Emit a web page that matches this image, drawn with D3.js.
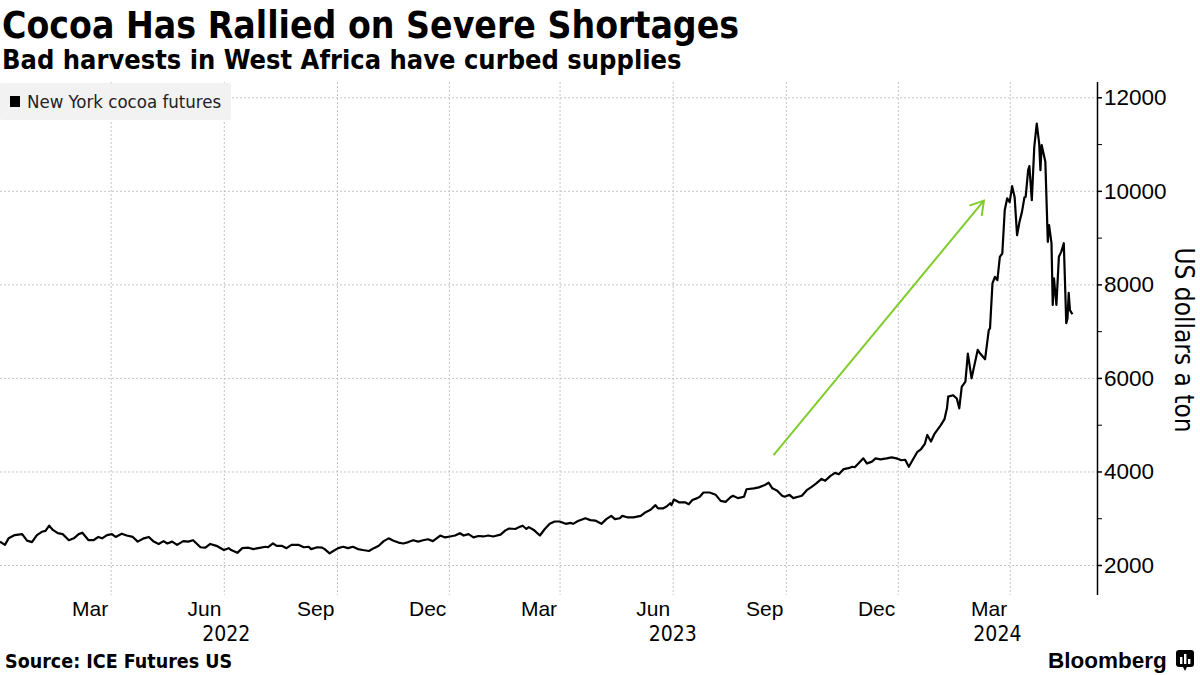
<!DOCTYPE html>
<html>
<head>
<meta charset="utf-8">
<script src="https://cdn.jsdelivr.net/npm/d3@7"></script>
<style>
  body { margin: 0; background: #fff; }
  svg { font-family: "DejaVu Sans Condensed", "DejaVu Sans", sans-serif; }
</style>
</head>
<body>
<svg id="chart" width="1200" height="675"></svg>
<script>
// New York cocoa futures, US dollars a ton
const dates = [
  "2021-12-01","2021-12-05","2021-12-08","2021-12-13","2021-12-19","2021-12-23","2021-12-27","2021-12-31",
  "2022-01-04","2022-01-07","2022-01-10","2022-01-13","2022-01-17","2022-01-21","2022-01-26","2022-01-30",
  "2022-02-03","2022-02-06","2022-02-11","2022-02-15","2022-02-19","2022-02-22","2022-02-26",
  "2022-03-02","2022-03-05","2022-03-10","2022-03-14","2022-03-19","2022-03-23","2022-03-28",
  "2022-04-01","2022-04-05","2022-04-09","2022-04-13","2022-04-16","2022-04-20","2022-04-24","2022-04-29",
  "2022-05-03","2022-05-07","2022-05-13","2022-05-17","2022-05-21","2022-05-26",
  "2022-06-01","2022-06-05","2022-06-07","2022-06-12","2022-06-16","2022-06-21","2022-06-25","2022-06-29",
  "2022-07-05","2022-07-07","2022-07-11","2022-07-14","2022-07-18","2022-07-22","2022-07-26",
  "2022-08-01","2022-08-05","2022-08-09","2022-08-11","2022-08-16","2022-08-20","2022-08-22","2022-08-26","2022-08-29",
  "2022-09-02","2022-09-06","2022-09-10","2022-09-14","2022-09-18","2022-09-22","2022-09-27",
  "2022-10-01","2022-10-05","2022-10-09","2022-10-13","2022-10-17","2022-10-21","2022-10-25","2022-10-29",
  "2022-11-02","2022-11-06","2022-11-10","2022-11-14","2022-11-18","2022-11-24","2022-11-28",
  "2022-12-02","2022-12-06","2022-12-10","2022-12-13","2022-12-17","2022-12-21","2022-12-25","2022-12-29",
  "2023-01-02","2023-01-06","2023-01-12","2023-01-16","2023-01-19","2023-01-24","2023-01-27","2023-01-30",
  "2023-02-02","2023-02-04","2023-02-08","2023-02-13","2023-02-17","2023-02-21","2023-02-25",
  "2023-03-01","2023-03-06","2023-03-10","2023-03-12","2023-03-16","2023-03-22","2023-03-26","2023-03-30",
  "2023-04-04","2023-04-08","2023-04-12","2023-04-15","2023-04-19","2023-04-21","2023-04-25","2023-04-30",
  "2023-05-06","2023-05-10","2023-05-14","2023-05-18","2023-05-20","2023-05-24","2023-05-27","2023-05-30","2023-05-31",
  "2023-06-02","2023-06-06","2023-06-11","2023-06-14","2023-06-17","2023-06-21","2023-06-23","2023-06-26",
  "2023-07-01","2023-07-06","2023-07-10","2023-07-14","2023-07-18","2023-07-20","2023-07-24","2023-07-29","2023-07-31",
  "2023-08-06","2023-08-10","2023-08-15","2023-08-18","2023-08-21","2023-08-25","2023-08-29","2023-08-31",
  "2023-09-04","2023-09-07","2023-09-11","2023-09-14","2023-09-18","2023-09-22","2023-09-26","2023-09-30",
  "2023-10-03","2023-10-07","2023-10-11","2023-10-14","2023-10-18","2023-10-22","2023-10-25","2023-10-27","2023-10-30",
  "2023-11-03","2023-11-06","2023-11-10","2023-11-13","2023-11-17","2023-11-22","2023-11-26","2023-11-30",
  "2023-12-04","2023-12-07","2023-12-10","2023-12-13","2023-12-17","2023-12-20","2023-12-23","2023-12-25","2023-12-28","2023-12-31",
  "2024-01-05","2024-01-08","2024-01-10","2024-01-11","2024-01-15","2024-01-18","2024-01-20","2024-01-22","2024-01-25","2024-01-27","2024-01-30",
  "2024-02-04","2024-02-06","2024-02-10","2024-02-13","2024-02-14","2024-02-16","2024-02-18","2024-02-20","2024-02-22","2024-02-24","2024-02-26","2024-02-28",
  "2024-03-01","2024-03-03","2024-03-05","2024-03-07","2024-03-09","2024-03-11","2024-03-13","2024-03-14","2024-03-16","2024-03-17",
  "2024-03-19","2024-03-21","2024-03-23","2024-03-25","2024-03-26","2024-03-27","2024-03-30",
  "2024-04-01","2024-04-02","2024-04-04","2024-04-05","2024-04-06","2024-04-08","2024-04-10","2024-04-12","2024-04-14",
  "2024-04-16","2024-04-17","2024-04-18","2024-04-19","2024-04-21"
];
const prices = [
  2500,2430,2570,2640,2660,2520,2490,2640,
  2710,2730,2840,2750,2680,2660,2530,2570,
  2660,2690,2530,2530,2600,2570,2640,
  2660,2600,2670,2630,2600,2500,2570,
  2600,2500,2450,2510,2460,2500,2430,2510,
  2500,2530,2380,2370,2450,2410,
  2320,2360,2320,2260,2360,2370,2340,2360,
  2390,2380,2460,2410,2410,2360,2430,
  2430,2380,2390,2340,2380,2370,2340,2250,2300,
  2360,2390,2360,2390,2340,2320,2300,
  2360,2410,2510,2570,2520,2480,2460,2490,
  2530,2500,2530,2550,2510,2630,2590,
  2610,2630,2680,2630,2660,2590,2620,2610,
  2630,2610,2650,2740,2780,2770,2810,2840,
  2770,2810,2750,2630,2770,2880,2930,
  2930,2880,2900,2880,2940,3000,2960,2950,
  2880,2980,3050,2980,3000,3050,3020,3020,
  3050,3130,3180,3280,3210,3210,3250,3320,3280,
  3400,3340,3340,3300,3390,3430,3460,3550,
  3550,3500,3370,3350,3450,3480,3430,3460,3620,
  3640,3660,3710,3760,3640,3590,3480,3460,
  3500,3430,3460,3480,3600,3670,3750,3840,
  3800,3900,3970,3940,4050,4070,4100,4090,4170,
  4280,4170,4210,4280,4260,4280,4300,4280,
  4240,4250,4100,4240,4420,4480,4590,4780,4640,4810,
  4990,5120,5350,5600,5630,5560,5350,5810,5920,6520,5990,
  6600,6520,6400,7020,7060,8020,8160,8090,8590,8660,9590,9840,
  9760,10100,9870,9050,9340,9550,9860,9870,10440,10530,
  9800,10940,11440,11010,10440,10980,10620,
  8910,9270,8880,7560,8130,7560,8590,8700,8880,
  7170,7270,7820,7450,7360
];

const xDomain = ["2021-12-01", "2024-05-11"];
const yTicks = [2000, 4000, 6000, 8000, 10000, 12000];
const yMinorTicks = [3000, 5000, 7000, 9000, 11000];
const monthTicks = ["2022-03-01","2022-06-01","2022-09-01","2022-12-01","2023-03-01",
                    "2023-06-01","2023-09-01","2023-12-01","2024-03-01"];
const monthNames = ["Mar","Jun","Sep","Dec","Mar","Jun","Sep","Dec","Mar"];
const yearLabels = ["2022", "2023", "2024"];
const yearLabelDates = ["2022-06-03", "2023-06-01", "2024-02-20"];
// green annotation arrow: [date, value] start and end
const arrowStart = ["2023-08-22", 4350];
const arrowEnd = ["2024-02-09", 9790];

const parse = d3.timeParse("%Y-%m-%d");
const data = dates.map((d, i) => ({ date: parse(d), value: prices[i] }));

const svg = d3.select("#chart");
const plotTop = 82, plotBottom = 595, plotRight = 1097;

const x = d3.scaleTime()
  .domain(xDomain.map(parse))
  .range([0, plotRight]);

const y = d3.scaleLinear()
  .domain([2000, 12000])
  .range([565, 97.3]);

// titles
svg.append("text")
  .attr("x", 2).attr("y", 38)
  .attr("font-size", 37).attr("font-weight", "bold")
  .text("Cocoa Has Rallied on Severe Shortages");
svg.append("text")
  .attr("x", 2).attr("y", 69)
  .attr("font-size", 27).attr("font-weight", "bold")
  .text("Bad harvests in West Africa have curbed supplies");

// grid
const grid = svg.append("g")
  .attr("stroke", "#c4c4c4")
  .attr("stroke-dasharray", "2,2")
  .attr("stroke-width", 1);
grid.selectAll("line.h")
  .data(yTicks)
  .join("line")
  .attr("class", "h")
  .attr("x1", 0).attr("x2", plotRight)
  .attr("y1", d => y(d) + 0.5).attr("y2", d => y(d) + 0.5);
grid.selectAll("line.v")
  .data(monthTicks)
  .join("line")
  .attr("class", "v")
  .attr("x1", d => x(parse(d)) + 0.5).attr("x2", d => x(parse(d)) + 0.5)
  .attr("y1", plotTop).attr("y2", plotBottom);

// legend
const legend = svg.append("g");
legend.append("rect")
  .attr("x", 0).attr("y", 83).attr("width", 231).attr("height", 37)
  .attr("rx", 2).attr("fill", "#f2f2f2");
legend.append("rect")
  .attr("x", 10).attr("y", 96).attr("width", 10).attr("height", 11)
  .attr("fill", "#000");
legend.append("text")
  .attr("x", 27).attr("y", 108)
  .attr("font-size", 18.5).attr("fill", "#222")
  .text("New York cocoa futures");

// x axis labels
const xAxis = d3.axisBottom(x)
  .tickValues(monthTicks.map(parse))
  .tickSize(0)
  .tickPadding(0)
  .tickFormat((d, i) => monthNames[i]);
const gx = svg.append("g")
  .attr("transform", `translate(0,${plotBottom + 6})`)
  .call(xAxis);
gx.select(".domain").remove();
gx.selectAll("text")
  .attr("text-anchor", "end")
  .attr("dx", -3)
  .attr("font-size", 21)
  .attr("font-family", null)
  .attr("fill", "#000");

svg.append("g")
  .selectAll("text")
  .data(yearLabels)
  .join("text")
  .attr("x", (d, i) => x(parse(yearLabelDates[i])))
  .attr("y", 641)
  .attr("text-anchor", "middle")
  .attr("font-size", 21)
  .text(d => d);

// y axis on the right
const yAxis = d3.axisRight(y)
  .tickValues(yTicks)
  .tickSize(5)
  .tickPadding(2)
  .tickFormat(d3.format("d"));
const gy = svg.append("g")
  .attr("transform", `translate(${plotRight},0)`)
  .call(yAxis);
gy.select(".domain").remove();
gy.selectAll("text").attr("font-size", 22.5).attr("font-family", null).attr("fill", "#000");
gy.selectAll("line").attr("stroke-width", 1.5);

const gyMinor = svg.append("g")
  .attr("transform", `translate(${plotRight},0)`)
  .call(d3.axisRight(y).tickValues(yMinorTicks).tickSize(5).tickFormat(""));
gyMinor.select(".domain").remove();

svg.append("line")
  .attr("x1", plotRight + 0.5).attr("x2", plotRight + 0.5)
  .attr("y1", plotTop).attr("y2", plotBottom)
  .attr("stroke", "#000").attr("stroke-width", 1.5);

svg.append("text")
  .attr("transform", `translate(1175,340) rotate(90)`)
  .attr("text-anchor", "middle")
  .attr("font-size", 26)
  .text("US dollars a ton");

// price line
const line = d3.line()
  .x(d => x(d.date))
  .y(d => y(d.value));
svg.append("path")
  .datum(data)
  .attr("fill", "none")
  .attr("stroke", "#000")
  .attr("stroke-width", 2.2)
  .attr("stroke-linejoin", "round")
  .attr("d", line);

// annotation arrow
svg.append("defs").append("marker")
  .attr("id", "arrowhead")
  .attr("viewBox", "-15 -10 17 20")
  .attr("refX", 0).attr("refY", 0)
  .attr("markerWidth", 17).attr("markerHeight", 20)
  .attr("markerUnits", "userSpaceOnUse")
  .attr("orient", "auto")
  .append("path")
  .attr("d", "M-13,-8L0,0L-13,8")
  .attr("fill", "none")
  .attr("stroke", "#7fcc2a")
  .attr("stroke-width", 2);
svg.append("line")
  .attr("x1", x(parse(arrowStart[0]))).attr("y1", y(arrowStart[1]))
  .attr("x2", x(parse(arrowEnd[0]))).attr("y2", y(arrowEnd[1]))
  .attr("stroke", "#7fcc2a")
  .attr("stroke-width", 2)
  .attr("marker-end", "url(#arrowhead)");

// footer
svg.append("text")
  .attr("x", 5).attr("y", 668)
  .attr("font-size", 19.5).attr("font-weight", "bold")
  .text("Source: ICE Futures US");
svg.append("text")
  .attr("x", 1048).attr("y", 668)
  .attr("font-family", "'Liberation Sans', Arial, sans-serif")
  .attr("font-size", 22.5).attr("font-weight", "bold")
  .text("Bloomberg");
const logo = svg.append("g").attr("transform", "translate(1176,650)");
logo.append("rect").attr("width", 18).attr("height", 17).attr("rx", 3).attr("fill", "#000");
logo.append("path").attr("d", "M7,17L9,21L11,17Z").attr("fill", "#000");
logo.selectAll("rect.bar")
  .data([[4, 7], [8, 4], [12, 9]])
  .join("rect")
  .attr("class", "bar")
  .attr("x", d => d[0]).attr("y", d => d[1])
  .attr("width", 2.4).attr("height", d => 14 - d[1])
  .attr("fill", "#fff");
</script>
</body>
</html>
